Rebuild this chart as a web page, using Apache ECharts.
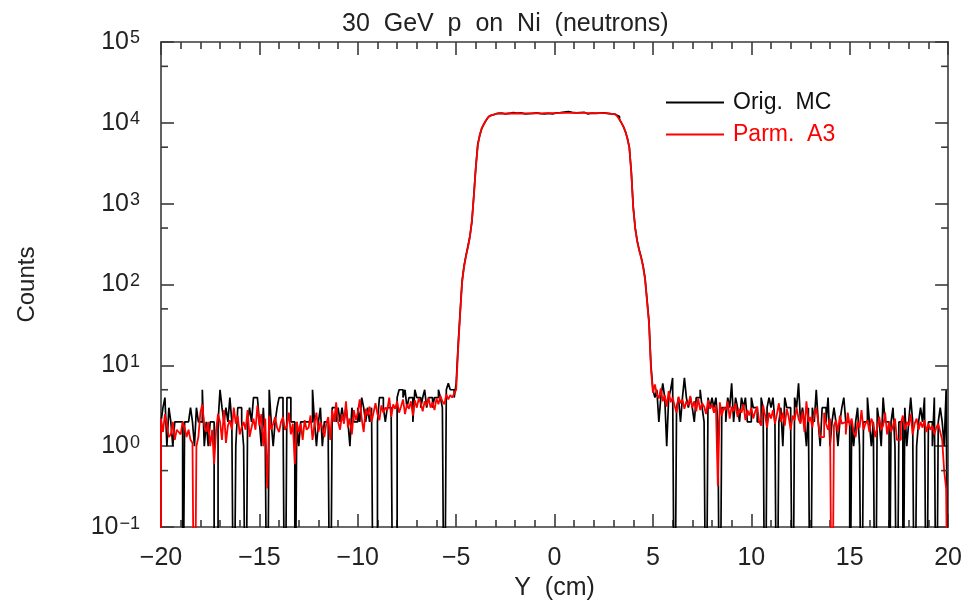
<!DOCTYPE html>
<html><head><meta charset="utf-8">
<script src="https://cdn.jsdelivr.net/npm/echarts@6/dist/echarts.min.js"></script>
<style>html,body{margin:0;padding:0;background:#fff}#c{width:965px;height:606px}</style>
</head><body><div id="c"></div>
<script>
// Histogram binning: 0.1 cm bins from -20 to 20 (400 bins)
const binStart = -20;
const binWidth = 0.1;
const xMin = -20, xMax = 20;

// Orig. MC (black) counts
const origLeft = [
 2,3,4,1,3,2,1,2,2,2, 2,0,2,2,2,3,2,1,3,2, 2,5,1,2,1,2,2,0,0,2, 5,3,2,3,2,4,2,0,1,3,
 3,2,1,0,2,3,2,4,4,4, 2,1,3,1,0,5,2,1,2,3, 4,4,3,0,4,4,2,2,0,2, 1,2,2,2,2,2,2,5,2,1,
 2,3,1,2,2,1,0,3,3,2, 3,2,3,2,3,2,1,3,2,2, 3,2,4,3,2,3,2,3,0,0, 2,4,4,3,2,3,3,2,0,0,
 4,5,5,4,5,3,4,4,2,5, 4,4,3,4,5,3,4,4,3,4, 4,5,4,3,0,5,6,5,5,4];
const origPeak = [
 6,18,45,110,170,230,300,400,600,1300,
 2900,5500,7000,8500,9500,10500,11500,12200,12600,12900,
 13100,12800,13200,13000,12900,13300,13100,13000,13400,12800,
 13200,13000,13300,13100,12900,13200,13000,13400,13100,12800,
 13300,13100,13000,13300,12900,13200,13100,13500,12900,13200,
 13300,13000,13400,13200,13600,13300,13800,13200,13500,13700,
 13300,13900,13400,13200,13500,13100,12900,13300,13200,13400,
 13100,13300,13200,13000,13300,13200,13100,13000,12900,12800,
 12700,12500,12000,11000,10000,9000,7800,6500,5000,2500,
 900,500,350,270,220,170,120,65,35,10];
const origRight = [
 5,4,5,2,4,6,4,1,4,5, 7,0,3,4,2,4,7,4,3,4, 3,2,4,4,5,3,2,0,4,3, 4,3,4,2,0,3,3,2,4,3,
 6,2,4,3,2,4,3,4,2,2, 4,3,3,2,2,4,3,0,3,4, 3,4,2,0,2,3,1,4,3,3, 2,0,4,3,6,2,3,2,1,3,
 0,3,2,5,2,1,3,3,2,4, 1,2,3,2,1,2,3,4,2,2, 0,2,1,2,3,1,0,2,2,4, 2,1,2,0,3,2,1,4,2,2,
 0,2,3,1,0,2,2,0,3,1, 2,4,2,0,1,2,3,2,4,0, 2,2,1,4,0,2,3,2,1,5];

// Parm. A3 (red) counts
const parmLeft = [
 2.2,1.5,2.5,1.8,1.3,1.4,2.0,1.2,1.6,1.5, 1.4,2.0,1.7,1.3,1.6,1.2,1.1,0,1.0,1.3,
 2.6,3.3,1.8,1.5,2.0,1.0,1.6,0.6,1.6,2.5, 2.0,1.2,2.8,1.1,1.8,2.1,1.6,3.0,1.9,2.4,
 1.4,1.7,2.0,1.6,2.8,1.3,1.7,2.2,1.6,3.2, 1.8,2.5,1.0,2.2,0.3,2.4,1.6,1.9,2.3,1.7,
 1.5,2.0,2.3,1.6,1.8,2.6,1.4,1.9,0.6,2.0, 1.5,1.9,1.2,2.1,1.6,1.7,2.4,1.2,1.9,2.6,
 1.5,2.0,1.7,1.3,1.9,2.3,1.2,2.8,2.0,3.5, 2.0,1.6,2.5,1.9,3.6,1.7,2.2,1.4,2.8,2.1,
 2.6,3.8,2.2,1.5,2.9,2.4,3.1,2.0,2.6,3.4, 2.5,2.1,3.2,2.6,3.0,2.8,4.0,2.3,3.3,2.9,
 3.6,2.6,3.1,3.8,2.5,3.3,2.9,3.6,2.4,3.7, 3.0,3.9,3.4,2.7,3.6,3.2,4.0,3.0,3.5,2.8,
 3.9,3.3,4.2,3.6,3.3,4.4,3.8,4.3,4.0,4.5];
const parmPeak = [
 5,16,42,105,165,225,290,390,620,1250,
 2800,5300,7100,8600,9600,10600,11500,12200,12600,12900,
 13000,13050,13100,13050,13000,13100,13150,13100,13050,13100,
 13150,13100,13050,13150,13100,13050,13100,13200,13150,13100,
 13150,13200,13100,13150,13200,13150,13200,13250,13200,13150,
 13200,13250,13300,13250,13300,13350,13300,13250,13300,13350,
 13300,13350,13300,13250,13300,13250,13200,13250,13200,13250,
 13200,13250,13200,13150,13200,13150,13100,13050,12950,12850,
 12700,12450,11900,11000,10000,9000,7800,6400,4900,2400,
 880,490,340,265,215,165,115,62,33,9];
const parmRight = [
 4.6,5.8,4.4,3.9,5.2,3.6,4.3,3.1,4.8,3.5, 4.0,3.2,2.6,4.1,3.4,3.8,2.9,3.6,3.2,4.2,
 3.0,3.6,2.7,3.9,2.8,3.4,3.1,2.5,3.7,2.9, 3.3,2.6,3.2,0.32,3.5,2.4,3.0,2.8,3.6,2.2,
 3.1,2.7,3.4,2.3,2.9,2.6,3.3,2.1,2.8,2.4, 3.0,2.2,2.7,3.1,2.0,1.8,3.2,2.4,1.7,2.6,
 2.2,2.8,1.9,2.5,3.4,2.0,2.6,1.8,2.9,2.3, 1.6,2.4,2.1,3.0,2.2,1.9,2.7,1.5,3.6,2.0,
 2.3,1.7,2.5,3.0,2.0,1.3,1.3,2.6,1.9,1.6, 2.2,0,1.8,2.1,1.5,2.4,1.9,2.0,1.4,2.6,
 1.8,2.2,1.5,1.3,2.0,1.7,2.8,1.6,1.9,2.1, 1.5,2.2,1.9,1.3,1.7,2.3,1.6,1.8,2.6,1.4,
 2.0,1.5,1.8,2.2,1.2,1.2,1.9,2.4,1.6,2.0, 1.8,2.5,1.4,1.9,2.2,1.6,2.0,1.7,2.1,1.5,
 1.9,1.6,1.8,1.4,1.7,1.9,1.5,1.2,0.5,0.3];

const yMinorTicks = [0.5, 5, 50, 500, 5000, 50000];
const seriesNames = ['Orig.  MC', 'Parm.  A3'];

// --- build step histogram data (zero bins drawn below the axis floor) ---
const FLOOR = 1e-3;
function histData(vals) {
  const d = [[binStart, FLOOR]];
  vals.forEach((v, i) => d.push([+(binStart + i * binWidth).toFixed(2), v > 0 ? v : FLOOR]));
  d.push([xMax, FLOOR]);
  return d;
}
const origData = histData(origLeft.concat(origPeak, origRight));
const parmData = histData(parmLeft.concat(parmPeak, parmRight));

const FONT = 'Liberation Sans';
const TXT = '#222';
const AX = '#3a3a3a';
const axisLine = { show: true, onZero: false, lineStyle: { color: AX, width: 1.6 } };
const minus = v => (v < 0 ? '\u2212' + Math.abs(v) : String(v));

const chart = echarts.init(document.getElementById('c'), null, { renderer: 'canvas' });
chart.setOption({
  animation: false,
  backgroundColor: '#fff',
  title: {
    text: '30  GeV  p  on  Ni  (neutrons)',
    left: 337, top: 7,
    textStyle: { fontFamily: FONT, fontSize: 25, fontWeight: 'normal', color: TXT }
  },
  legend: {
    orient: 'vertical', left: 661, top: 86, itemGap: 9,
    itemWidth: 58, itemHeight: 2, icon: 'rect',
    data: [
      { name: seriesNames[0], textStyle: { color: '#111' } },
      { name: seriesNames[1], textStyle: { color: '#ff0000' } }
    ],
    textStyle: { fontFamily: FONT, fontSize: 23, padding: [0, 0, 0, 4] }
  },
  grid: { left: 161, right: 16, top: 42, bottom: 77 },
  xAxis: [{
    type: 'value', min: xMin, max: xMax, interval: 5, position: 'bottom',
    name: 'Y  (cm)', nameLocation: 'middle', nameGap: 45,
    nameTextStyle: { fontFamily: FONT, fontSize: 25, color: TXT },
    axisLine,
    axisTick: { show: true, inside: true, length: 13, lineStyle: { color: AX, width: 1.6 } },
    minorTick: { show: true, splitNumber: 5, length: 7, lineStyle: { color: AX, width: 1.6 } },
    axisLabel: { fontFamily: FONT, fontSize: 25, color: TXT, margin: 19, formatter: minus },
    splitLine: { show: false }
  }, {
    type: 'value', min: xMin, max: xMax, interval: 5, position: 'top',
    axisLine,
    axisTick: { show: true, inside: true, length: 13, lineStyle: { color: AX, width: 1.6 } },
    minorTick: { show: true, splitNumber: 5, length: 7, lineStyle: { color: AX, width: 1.6 } },
    axisLabel: { show: false }, splitLine: { show: false }
  }],
  yAxis: [{
    type: 'log', logBase: 10, min: 0.1, max: 100000, splitNumber: 6, position: 'left',
    name: 'Counts', nameLocation: 'middle', nameGap: 122, nameRotate: 90,
    nameTextStyle: { fontFamily: FONT, fontSize: 24, color: TXT },
    axisLine,
    axisTick: { show: true, inside: true, length: 13, lineStyle: { color: AX, width: 1.6 } },
    axisLabel: {
      margin: 21, showMinLabel: true, showMaxLabel: true,
      formatter: v => {
        const e = Math.round(Math.log10(v));
        return '{b|10}{s|' + (e < 0 ? '\u2212' + (-e) : e) + '}';
      },
      rich: {
        b: { fontFamily: FONT, fontSize: 25, color: TXT, lineHeight: 25, padding: [6, 0, 6, 0] },
        s: { fontFamily: FONT, fontSize: 18, color: TXT, lineHeight: 18, verticalAlign: 'top', padding: [0, 0, 0, 1] }
      }
    },
    splitLine: { show: false }
  }, {
    type: 'log', logBase: 10, min: 0.1, max: 100000, splitNumber: 6, position: 'right',
    axisLine,
    axisTick: { show: true, inside: true, length: 13, lineStyle: { color: AX, width: 1.6 } },
    axisLabel: { show: false }, splitLine: { show: false }
  }],
  series: [{
    name: seriesNames[0], type: 'line', step: 'end', symbol: 'none',
    xAxisIndex: 0, yAxisIndex: 0, clip: true, z: 2,
    lineStyle: { color: '#000', width: 1.7 }, itemStyle: { color: '#000' },
    data: origData
  }, {
    name: seriesNames[1], type: 'line', step: 'end', symbol: 'none',
    xAxisIndex: 0, yAxisIndex: 0, clip: true, z: 3,
    lineStyle: { color: '#ff0000', width: 1.8 }, itemStyle: { color: '#ff0000' },
    data: parmData
  }, {
    type: 'custom', xAxisIndex: 0, yAxisIndex: 0, silent: true, clip: false, z: 5,
    encode: { x: 0, y: 1 },
    data: yMinorTicks.map(v => [xMin, v]),
    renderItem: (params, api) => {
      const v = api.value(1);
      const pL = api.coord([xMin, v]);
      const pR = api.coord([xMax, v]);
      const st = { stroke: AX, lineWidth: 1.6 };
      return { type: 'group', children: [
        { type: 'line', shape: { x1: pL[0], y1: pL[1], x2: pL[0] + 7, y2: pL[1] }, style: st },
        { type: 'line', shape: { x1: pR[0], y1: pR[1], x2: pR[0] - 7, y2: pR[1] }, style: st }
      ] };
    }
  }]
});
</script>
</body></html>
